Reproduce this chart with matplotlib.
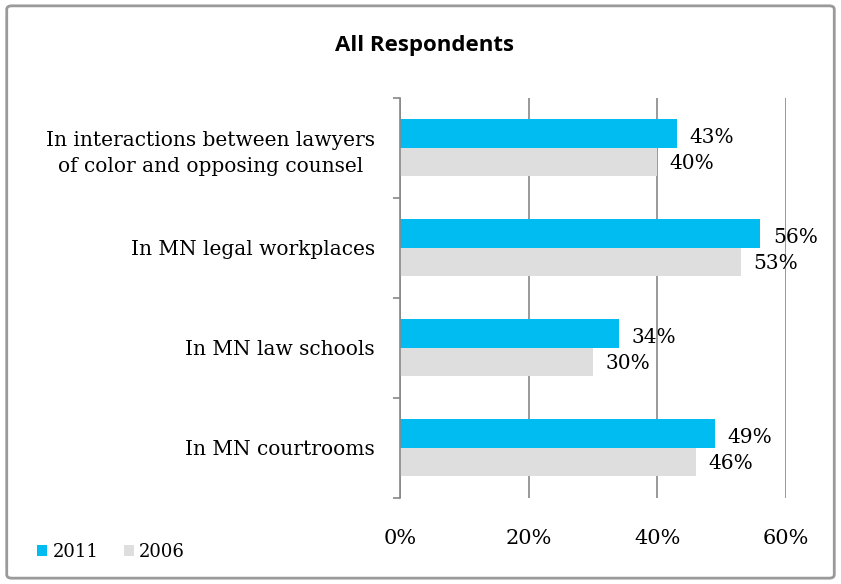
import numpy as np
import matplotlib.pyplot as plt
from matplotlib.patches import FancyBboxPatch

categories = ["In interactions between lawyers\nof color and opposing counsel",
              "In MN legal workplaces",
              "In MN law schools",
              "In MN courtrooms"]
vals_2011 = [43, 56, 34, 49]
vals_2006 = [40, 53, 30, 46]
xticks = [0, 20, 40, 60]

plt.rcParams["font.family"] = ["DejaVu Serif"]

fig = plt.figure(figsize=(8.41, 5.84), dpi=100)
ax = fig.add_axes([0.4756, 0.1473, 0.459, 0.6849])

y = np.arange(len(categories))
h = 0.285
ax.barh(y - h / 2, vals_2011, height=h, color="#00BCF0", label="2011", zorder=3)
ax.barh(y + h / 2, vals_2006, height=h, color="#DEDEDE", label="2006", zorder=3)

for yi, v in zip(y - h / 2, vals_2011):
    ax.annotate(f"{v}%", (v, yi), xytext=(9, -3), textcoords="offset points",
                va="center", ha="left", fontsize=14.5)
for yi, v in zip(y + h / 2, vals_2006):
    ax.annotate(f"{v}%", (v, yi), xytext=(9, -1), textcoords="offset points",
                va="center", ha="left", fontsize=14.5)

ax.set_xlim(0, 60)
ax.set_ylim(len(categories) - 0.5, -0.5)
ax.set_xticks(xticks)
ax.set_xticklabels([f"{t}%" for t in xticks], fontsize=15)
ax.tick_params(axis="x", length=0, pad=22)
ax.set_yticks(y)
ax.set_yticklabels(categories, fontsize=14.5, multialignment="center", linespacing=1.5)
ax.tick_params(axis="y", length=0, pad=18)
# small ticks between categories
ax.set_yticks(np.arange(-0.5, len(categories)), minor=True)
ax.tick_params(axis="y", which="minor", length=5, color="#888888", width=1.2)

ax.grid(axis="x", color="#888888", linewidth=1.2, zorder=0)
for s in ["top", "right", "bottom"]:
    ax.spines[s].set_visible(False)
ax.spines["left"].set_color("#888888")
ax.spines["left"].set_linewidth(1.2)
ax.spines["left"].set_zorder(4)

fig.text(0.505, 0.922, "All Respondents", ha="center", va="center",
         fontsize=16, fontweight="bold", family=["Open Sans", "DejaVu Sans"])

fig.legend(loc="lower left", bbox_to_anchor=(0.025, 0.012), ncol=2, frameon=False,
           fontsize=13, handlelength=0.55, handleheight=0.55, handletextpad=0.3,
           columnspacing=1.4)

border = FancyBboxPatch((0.008, 0.01), 0.984, 0.98, boxstyle="round,pad=0,rounding_size=0.006",
                        transform=fig.transFigure, fill=False, edgecolor="#9A9A9A", linewidth=2)
fig.patches.append(border)

fig.savefig("out.png", dpi=100)
